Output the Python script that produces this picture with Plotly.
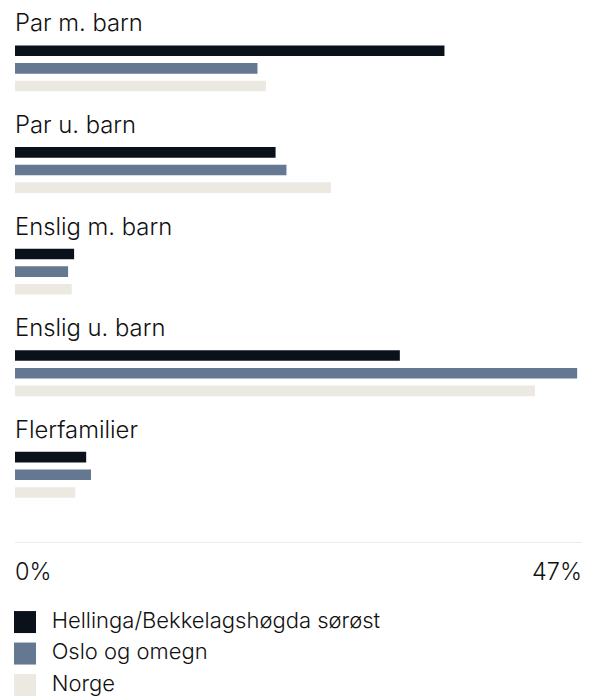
import plotly.graph_objects as go

# ---- data ----
categories = ["Par m. barn", "Par u. barn", "Enslig m. barn", "Enslig u. barn", "Flerfamilier"]
series = ["Hellinga/Bekkelagshøgda sørøst", "Oslo og omegn", "Norge"]
hellinga = [35.6, 21.6, 4.9, 31.9, 5.9]
oslo = [20.1, 22.5, 4.4, 46.6, 6.3]
norge = [20.8, 26.2, 4.7, 43.1, 5.0]
axis_max = 47
tick_labels = ["0%", "47%"]

values = [hellinga, oslo, norge]
colors = ["#0b111b", "#647991", "#ece9e3"]

W, H = 589, 697
FONT = "Inter"
TXT = "#111111"
WEIGHT = 350

def py(px):
    return 1 - px / H

fig = go.Figure()

# group layout in pixels
first_top = 41.9
pitch = 101.6
group_h = 53.0

layout = dict()
annotations = []
for g, cat in enumerate(categories):
    idx = g + 1
    xa = "x" if idx == 1 else f"x{idx}"
    ya = "y" if idx == 1 else f"y{idx}"
    top = first_top + pitch * g
    bot = top + group_h
    for s, name in enumerate(series):
        fig.add_trace(go.Bar(
            x=[values[s][g]], y=[name], orientation="h",
            marker=dict(color=colors[s], line=dict(width=0)),
            width=0.6, name=name, showlegend=False,
            xaxis=xa, yaxis=ya,
            hovertemplate=f"{cat}<br>{name}: %{{x}}%<extra></extra>",
        ))
    key_x = "xaxis" if idx == 1 else f"xaxis{idx}"
    key_y = "yaxis" if idx == 1 else f"yaxis{idx}"
    layout[key_x] = dict(domain=[0, 1], range=[0, axis_max], showgrid=False,
                         zeroline=False, showticklabels=False, showline=False,
                         anchor=ya, fixedrange=True)
    layout[key_y] = dict(domain=[py(bot), py(top)], type="category",
                         categoryorder="array", categoryarray=series,
                         range=[2.5, -0.5], showgrid=False, zeroline=False,
                         showticklabels=False, showline=False, anchor=xa,
                         fixedrange=True)
    annotations.append(dict(
        text=cat, xref=f"{xa} domain", yref=f"{ya} domain", x=0, y=1,
        xanchor="left", yanchor="middle", yshift=19, xshift=-2, showarrow=False,
        font=dict(family=FONT, size=23.8, color=TXT, weight=WEIGHT),
    ))

# bottom axis line (on last group's x axis)
layout["xaxis5"].update(anchor="free", position=py(542.3), showline=True,
                        linecolor="#efece7", linewidth=1)

# tick labels at axis ends
for val, lab, anc, sh in zip([0, axis_max], tick_labels, ["left", "right"], [-2, 2]):
    annotations.append(dict(
        text=lab, xref="x5", yref="paper", x=val, y=py(571.7),
        xanchor=anc, yanchor="middle", xshift=sh, showarrow=False,
        font=dict(family=FONT, size=23.5, color=TXT, weight=WEIGHT),
    ))

# custom legend in its own axes
leg_top = 606.3
leg_pitch = 31.5
layout["xaxis6"] = dict(domain=[0, 1], range=[0, 567.3], visible=False,
                        anchor="y6", fixedrange=True)
span = (H - leg_top) / leg_pitch
layout["yaxis6"] = dict(domain=[0, py(leg_top)], type="category",
                        categoryorder="array", categoryarray=series,
                        range=[span - 0.5, -0.5], visible=False, anchor="x6",
                        fixedrange=True)
fig.add_trace(go.Scatter(
    x=[10] * 3, y=series, mode="markers", xaxis="x6", yaxis="y6",
    marker=dict(symbol="square", size=22, color=colors, line=dict(width=0)),
    showlegend=False, hoverinfo="skip", cliponaxis=False,
))
fig.add_trace(go.Scatter(
    x=[36.7] * 3, y=series, mode="text", text=series,
    textposition="middle right", xaxis="x6", yaxis="y6",
    textfont=dict(family=FONT, size=22, color=TXT, weight=WEIGHT),
    showlegend=False, hoverinfo="skip", cliponaxis=False,
))

fig.update_layout(
    width=W, height=H, autosize=False,
    margin=dict(l=15, r=7, t=0, b=0),
    paper_bgcolor="white", plot_bgcolor="white",
    barmode="overlay", showlegend=False,
    annotations=annotations,
    font=dict(family=FONT, color=TXT),
    **layout,
)

fig.write_html("out.html", config={"displayModeBar": False},
               post_script="document.body.style.margin='0';document.body.style.overflow='hidden';")
